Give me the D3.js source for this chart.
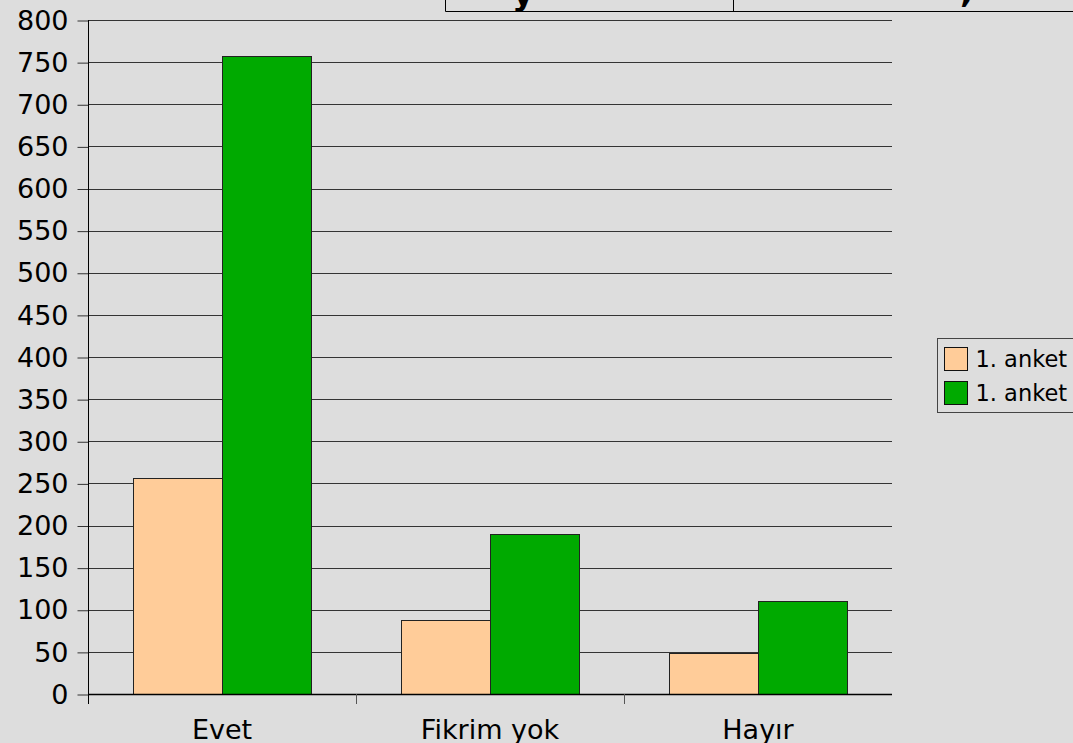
<!DOCTYPE html>
<meta charset="utf-8">
<style>
    body { margin: 0; background: #dddddd; }
    svg { display: block; font-family: "DejaVu Sans", sans-serif; }
    .axis text { fill: #000; font-size: 27px; font-family: "DejaVu Sans", sans-serif; }
    .legend text { fill: #000; font-size: 22.5px; font-family: "DejaVu Sans", sans-serif; }
    .grid line { stroke: #333; stroke-width: 1; }
    rect.bar { stroke: #222; stroke-width: 1; }
</style>
<body>
<script src="https://d3js.org/d3.v7.min.js"></script>
<script>
    var categories = ["Evet", "Fikrim yok", "Hayır"];
    var seriesNames = ["1. anket", "1. anket"];
    var series1 = [256, 88, 49];
    var series2 = [757, 190, 110];
    var yTicks = d3.range(0, 801, 50);
    var colors = ["#ffcc99", "#00aa00"];

    var width = 1073, height = 743;
    var plot = {left: 88, right: 892, top: 20, bottom: 694};

    var svg = d3.select("body").append("svg")
        .attr("width", width)
        .attr("height", height);

    svg.append("rect").attr("width", width).attr("height", height).attr("fill", "#dddddd");

    // cut-off title table at top
    var header = svg.append("g");
    header.append("path")
        .attr("d", "M445.5,0 V11.5 H1073 M733.5,0 V11.5")
        .attr("fill", "none").attr("stroke", "#000").attr("stroke-width", 1);
    header.append("text").attr("x", 512).attr("y", 5)
        .attr("font-size", 34).attr("font-weight", "bold").text("y");
    header.append("text").attr("x", 960).attr("y", 2)
        .attr("font-size", 34).attr("font-weight", "bold").text(",");

    var x = d3.scaleBand()
        .domain(categories)
        .range([plot.left, plot.right])
        .paddingInner(0)
        .paddingOuter(0);

    var y = d3.scaleLinear()
        .domain([0, 800])
        .range([plot.bottom, plot.top]);

    var inner = d3.scaleBand()
        .domain([0, 1])
        .range([45, x.bandwidth() - 45]);

    // grid
    svg.append("g").attr("class", "grid")
        .selectAll("line").data(yTicks.slice(1)).join("line")
        .attr("x1", plot.left).attr("x2", plot.right)
        .attr("y1", d => Math.round(y(d)) + 0.5).attr("y2", d => Math.round(y(d)) + 0.5);

    // bars
    var data = [series1, series2];
    data.forEach(function(vals, s) {
        svg.append("g").selectAll("rect").data(vals).join("rect")
            .attr("class", "bar")
            .attr("x", (d, i) => Math.round(x(categories[i]) + inner(s)) + 0.5)
            .attr("y", d => Math.round(y(d)) + 0.5)
            .attr("width", Math.round(inner.bandwidth()))
            .attr("height", d => Math.round(y(0)) - Math.round(y(d)))
            .attr("fill", colors[s]);
    });

    // y axis
    var yAxis = d3.axisLeft(y).tickValues(yTicks).tickSize(11).tickPadding(9);
    var gy = svg.append("g").attr("class", "axis")
        .attr("transform", "translate(" + (plot.left + 0.5) + ",0.5)")
        .call(yAxis);
    gy.select(".domain").remove();
    gy.selectAll(".tick line").attr("stroke", "#333");
    svg.append("line")
        .attr("x1", plot.left + 0.5).attr("x2", plot.left + 0.5)
        .attr("y1", plot.top).attr("y2", plot.bottom + 10)
        .attr("stroke", "#000");

    // x axis
    svg.append("line")
        .attr("x1", plot.left).attr("x2", plot.right)
        .attr("y1", plot.bottom + 0.5).attr("y2", plot.bottom + 0.5)
        .attr("stroke", "#000").attr("stroke-width", 1.5);
    svg.append("g").selectAll("line").data(categories.slice(1)).join("line")
        .attr("x1", d => Math.round(x(d)) + 0.5)
        .attr("x2", d => Math.round(x(d)) + 0.5)
        .attr("y1", plot.bottom).attr("y2", plot.bottom + 10)
        .attr("stroke", "#555");

    svg.append("g").attr("class", "axis")
        .selectAll("text").data(categories).join("text")
        .attr("x", d => x(d) + x.bandwidth() / 2)
        .attr("y", 739)
        .attr("text-anchor", "middle")
        .text(d => d);

    // legend
    var legend = svg.append("g").attr("class", "legend").attr("transform", "translate(937.5,338.5)");
    legend.append("rect")
        .attr("width", 140).attr("height", 74)
        .attr("fill", "none").attr("stroke", "#444");
    var items = legend.selectAll("g").data(seriesNames).join("g")
        .attr("transform", (d, i) => "translate(7," + (9 + i * 34) + ")");
    items.append("rect")
        .attr("width", 23).attr("height", 23)
        .attr("fill", (d, i) => colors[i]).attr("stroke", "#111");
    items.append("text")
        .attr("x", 31).attr("y", 19)
        .text(d => d);
</script>
